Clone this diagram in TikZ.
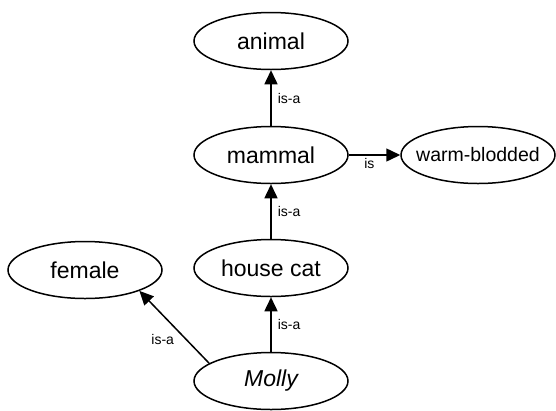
\documentclass[tikz,border=0pt]{standalone}
\usepackage{fontspec}
\setmainfont{Liberation Sans}
\usetikzlibrary{shapes.geometric,arrows.meta}
\tikzset{
  concept/.style={ellipse, draw, line width=1.5pt, minimum width=154pt, minimum height=57pt, inner sep=0pt, font=\fontsize{23}{27}\selectfont},
  rel/.style={line width=1.5pt, -{Triangle[length=14pt,width=13pt]}},
  lbl/.style={font=\fontsize{14}{16}\selectfont, inner sep=3pt}
}
\newcommand{\ctext}[1]{\makebox[0pt]{#1}}
\begin{document}
\begin{tikzpicture}[x=1pt,y=-1pt]
\useasboundingbox (0,0) rectangle (556,410);
\node[concept] (animal) at (271,41) {\ctext{animal}};
\node[concept] (mammal) at (271,155) {\ctext{mammal}};
\node[concept, font=\fontsize{19.5}{23}\selectfont] (warm) at (478,155) {\ctext{warm-blodded}};
\node[concept] (cat) at (271,268) {\ctext{house cat}};
\node[concept] (female) at (85,270) {\ctext{female}};
\node[concept] (molly) at (271,381) {\ctext{\itshape Molly}};
\draw[rel] (mammal) -- node[lbl, right, xshift=3pt] {is-a} (animal);
\draw[rel] (cat) -- node[lbl, right, xshift=3pt] {is-a} (mammal);
\draw[rel] (molly) -- node[lbl, right, xshift=3pt] {is-a} (cat);
\draw[rel] (mammal) -- node[lbl, below, pos=0.4] {is} (warm);
\draw[rel] (molly.164) -- node[lbl, pos=0.45, anchor=north east] {is-a} (female.-21);
\end{tikzpicture}
\end{document}
